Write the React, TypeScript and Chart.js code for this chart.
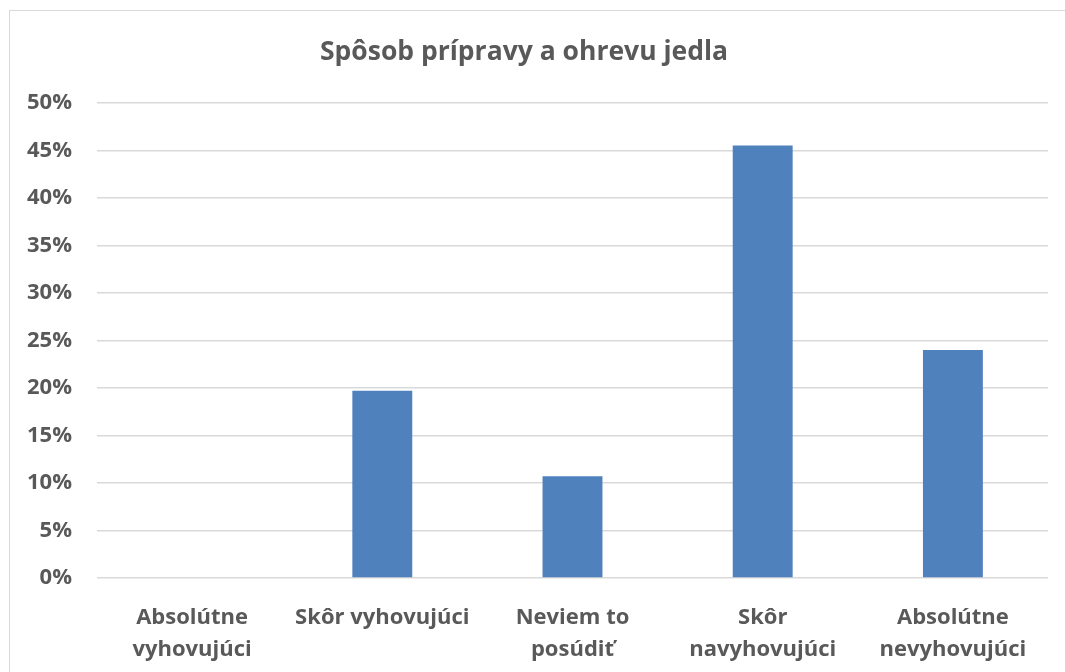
import React, { useEffect, useRef } from "react";
import { Chart, registerables } from "chart.js";

Chart.register(...registerables);

const title = "Spôsob prípravy a ohrevu jedla";
const categories: (string | string[])[] = [
  ["Absolútne", "vyhovujúci"],
  "Skôr vyhovujúci",
  ["Neviem to", "posúdiť"],
  ["Skôr", "navyhovujúci"],
  ["Absolútne", "nevyhovujúci"],
];
const values = [0, 19.7, 10.7, 45.5, 24.0];
const yTicks = [0, 5, 10, 15, 20, 25, 30, 35, 40, 45, 50];

const TEXT = "#595959";
const GRID = "#D9D9D9";
const BAR = "#4F81BD";
const FONT = "'Open Sans', 'Noto Sans', sans-serif";

export default function App() {
  const ref = useRef<HTMLCanvasElement | null>(null);

  useEffect(() => {
    if (!ref.current) return;
    const chart = new Chart(ref.current, {
      type: "bar",
      data: {
        labels: categories,
        datasets: [
          {
            data: values,
            backgroundColor: BAR,
            borderWidth: 0,
            categoryPercentage: 1,
            barPercentage: 0.315,
          },
        ],
      },
      options: {
        animation: false,
        responsive: false,
        maintainAspectRatio: false,
        layout: { padding: { left: 0, right: 17, top: 0, bottom: 0 } },
        plugins: {
          legend: { display: false },
          tooltip: { enabled: false },
          title: {
            display: true,
            text: title,
            color: TEXT,
            font: { family: FONT, size: 26.5, weight: "bold", lineHeight: 1.2 },
            padding: { top: 37, bottom: 34 },
          },
        },
        scales: {
          x: {
            grid: { display: false, drawTicks: false },
            border: { display: false },
            ticks: {
              color: TEXT,
              font: { family: FONT, size: 22, weight: "bold", lineHeight: 1.48 },
              padding: 23,
              maxRotation: 0,
              autoSkip: false,
            },
            afterFit: (s: any) => {
              s.height = 94;
            },
          },
          y: {
            min: 0,
            max: 50,
            afterBuildTicks: (s: any) => {
              s.ticks = yTicks.map((v) => ({ value: v }));
            },
            grid: { color: GRID, lineWidth: 1.5, drawTicks: false },
            border: { display: false },
            ticks: {
              color: TEXT,
              font: { family: FONT, size: 22, weight: "bold" },
              padding: 25,
              callback: (v: any) => v + "%",
            },
            afterFit: (s: any) => {
              s.width = 97;
            },
          },
        },
      },
    });
    return () => chart.destroy();
  }, []);

  return (
    <div
      style={{
        position: "fixed",
        left: 0,
        top: 0,
        width: 1065,
        height: 672,
        overflow: "hidden",
        background: "#fff",
      }}
    >
      <div
        style={{
          position: "absolute",
          left: 9,
          top: 10,
          right: 0,
          height: 1,
          background: GRID,
        }}
      />
      <div
        style={{
          position: "absolute",
          left: 9,
          top: 10,
          bottom: 0,
          width: 1,
          background: GRID,
        }}
      />
      <canvas
        ref={ref}
        width={1065}
        height={672}
        style={{ position: "absolute", left: 0, top: 0, width: 1065, height: 672 }}
      />
    </div>
  );
}
